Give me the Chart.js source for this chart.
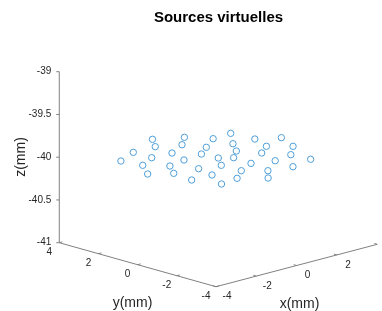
<!DOCTYPE html>
<html>
<head>
<meta charset="utf-8">
<script src="https://cdn.jsdelivr.net/npm/chart.js@4"></script>
<style>
  html, body { margin: 0; padding: 0; background: #fff; }
  #wrap { width: 382px; height: 311px; }
</style>
</head>
<body>
<div id="wrap"><canvas id="c"></canvas></div>
<script>
// virtual source positions (mm), all on the plane z = -40
const srcX = [-2.77, -1.66, 0.02, -0.58, -2.60, -1.68, -3.27, -0.73, -1.97, -2.54,
              1.02, 0.28, -1.06, -2.69, -1.48, -0.07, 0.67, 1.63, -1.71, 0.00,
              -0.59, -2.29, 2.57, 1.68, 1.10, 0.42, -0.57, -1.37, 0.35, 2.67,
              2.30, 1.57, 1.21, 0.11, -0.55, 3.47, 2.98, 2.16, 1.12, 2.25];
const srcY = [2.12, 2.63, 3.38, 2.62, 1.18, 1.67, 0.24, 1.61, 0.44, -0.34,
              2.78, 2.14, 0.66, -1.41, -0.52, 0.79, 1.30, 1.94, -1.44, 0.00,
              -0.76, -2.52, 2.01, 0.98, 0.21, -0.35, -1.76, -2.37, -1.31, 0.88,
              -0.09, -0.60, -1.66, -2.42, -3.11, 0.35, -0.75, -1.48, -2.66, -2.40];
const srcZ = [-40, -40, -40, -40, -40, -40, -40, -40, -40, -40,
              -40, -40, -40, -40, -40, -40, -40, -40, -40, -40,
              -40, -40, -40, -40, -40, -40, -40, -40, -40, -40,
              -40, -40, -40, -40, -40, -40, -40, -40, -40, -40];

const xTicks = [-4, -2, 0, 2, 4];
const yTicks = [-4, -2, 0, 2, 4];
const zTicks = [-41, -40.5, -40, -39.5, -39];

// 3D view, gives canvas-like coordinates
function proj(x, y, z) {
  return {
    x: 216 + 20.16 * (x + 4) - 19.59 * (y + 4),
    y: 286.7 - 5.3 * (x + 4) - 5.5 * (y + 4) - 85.5 * (z + 41)
  };
}

const pts = srcX.map((v, i) => proj(v, srcY[i], srcZ[i]));

const axes3d = {
  id: 'axes3d',
  beforeDatasetsDraw(chart) {
    const ctx = chart.ctx;
    const sx = chart.scales.x, sy = chart.scales.y;
    const P = (x, y, z) => {
      const p = proj(x, y, z);
      return [sx.getPixelForValue(p.x), sy.getPixelForValue(p.y)];
    };
    const line = (a, b) => {
      ctx.beginPath();
      ctx.moveTo(a[0], a[1]);
      ctx.lineTo(b[0], b[1]);
      ctx.stroke();
    };
    ctx.save();
    ctx.strokeStyle = '#808080';
    ctx.lineWidth = 1;
    // axis lines
    line(P(-4, 4, -41), P(-4, 4, -39));
    line(P(-4, 4, -41), P(-4, -4, -41));
    line(P(-4, -4, -41), P(4, -4, -41));

    ctx.fillStyle = '#262626';
    ctx.font = '10px Arial, "Liberation Sans", sans-serif';
    ctx.textBaseline = 'middle';

    // z ticks
    ctx.textAlign = 'right';
    zTicks.forEach(t => {
      const p = P(-4, 4, t);
      line(p, [p[0] - 3, p[1]]);
      ctx.fillText(String(t), p[0] - 8, p[1]);
    });
    // y ticks
    ctx.textAlign = 'center';
    yTicks.forEach(t => {
      const p = P(-4, t, -41);
      const q = P(-3.85, t, -41);
      line(p, q);
      ctx.fillText(String(t), p[0] - 10, p[1] + 10);
    });
    // x ticks (last label falls off the canvas)
    xTicks.forEach(t => {
      const p = P(t, -4, -41);
      const q = P(t, -3.85, -41);
      line(p, q);
      if (p[0] + 11 < chart.width - 4) ctx.fillText(String(t), p[0] + 11, p[1] + 10);
    });

    // axis titles
    ctx.font = '14px Arial, "Liberation Sans", sans-serif';
    ctx.fillText('y(mm)', 132.5, 303);
    ctx.fillText('x(mm)', 299.5, 304);
    ctx.save();
    ctx.translate(21, 157);
    ctx.rotate(-Math.PI / 2);
    ctx.fillText('z(mm)', 0, 0);
    ctx.restore();
    ctx.restore();
  }
};

new Chart(document.getElementById('c'), {
  type: 'scatter',
  data: {
    datasets: [{
      label: 'sources',
      data: pts,
      showLine: false,
      pointRadius: 3.2,
      pointBorderWidth: 1,
      borderColor: '#4f9ed8',
      backgroundColor: 'rgba(0,0,0,0)',
      clip: false
    }]
  },
  options: {
    responsive: true,
    maintainAspectRatio: false,
    animation: false,
    layout: { autoPadding: false, padding: { left: 55 } },
    scales: {
      x: { type: 'linear', display: false, min: 55, max: 382 },
      y: { type: 'linear', display: false, reverse: true, min: 40, max: 311 }
    },
    plugins: {
      legend: { display: false },
      tooltip: { enabled: false },
      title: {
        display: true,
        text: 'Sources virtuelles',
        fullSize: false,
        color: '#000',
        font: { family: 'Arial', size: 15, weight: 'bold' },
        padding: { top: 9, bottom: 13 }
      }
    }
  },
  plugins: [axes3d]
});
</script>
</body>
</html>
